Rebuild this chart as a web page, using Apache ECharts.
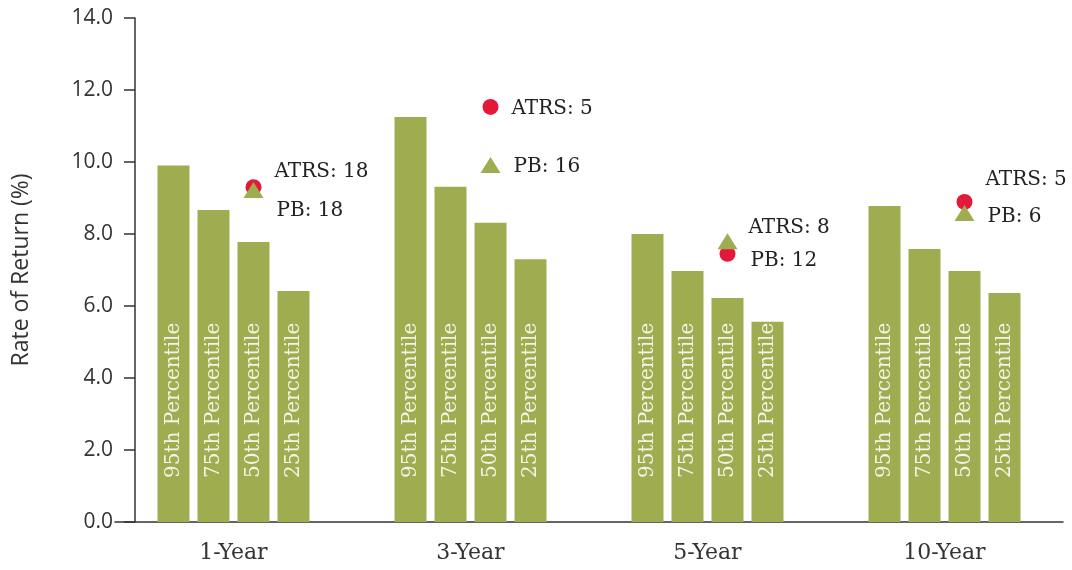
<!DOCTYPE html>
<html>
<head>
<meta charset="utf-8">
<script src="https://cdn.jsdelivr.net/npm/echarts@6/dist/echarts.min.js"></script>
<style>
  html, body { margin: 0; padding: 0; background: #fff; }
  #chart { width: 1072px; height: 570px; }
</style>
</head>
<body>
<div id="chart"></div>
<script>
const periods = ['1-Year', '3-Year', '5-Year', '10-Year']
const percentileNames = ['95th Percentile', '75th Percentile', '50th Percentile', '25th Percentile']
const p95 = [9.9, 11.25, 8.0, 8.78]
const p75 = [8.67, 9.31, 6.97, 7.58]
const p50 = [7.78, 8.31, 6.22, 6.97]
const p25 = [6.42, 7.3, 5.56, 6.36]
const atrsReturn = [9.3, 11.53, 7.45, 8.89]
const atrsRank = [18, 5, 8, 5]
const pbReturn = [9.22, 9.92, 7.8, 8.58]
const pbRank = [18, 16, 12, 6]
const yTicks = [0, 2, 4, 6, 8, 10, 12, 14]

// label nudges so the two callouts don't collide
const atrsNudge = [[0, -15], [0, 2], [0, -26], [0, -22]]
const pbNudge = [[0, 21], [0, 2], [0, 20], [0, 4]]

const GREEN = '#9fac4f'
const RED = '#e3193a'
const SLAB = '"DejaVu Serif", serif'
const SANS = '"Open Sans", sans-serif'

const chart = echarts.init(document.getElementById('chart'))

const barSeries = [p95, p75, p50, p25].map((values, i) => ({
  name: percentileNames[i],
  type: 'bar',
  data: values,
  barWidth: 32,
  barGap: '25%',
  itemStyle: { color: GREEN },
  label: {
    show: true,
    formatter: percentileNames[i],
    position: 'insideBottom',
    distance: 44,
    rotate: 90,
    align: 'left',
    verticalAlign: 'middle',
    color: '#f3f3e6',
    fontFamily: SLAB,
    fontSize: 20,
  },
}))

function markerSeries(name, values, ranks, nudges, symbol, size, color) {
  return {
    name,
    type: 'scatter',
    symbol,
    symbolSize: size,
    symbolOffset: [20, 0],
    itemStyle: { color, opacity: 1 },
    z: name === 'PB' ? 4 : 3,
    data: values.map((v, i) => ({
      value: v,
      label: { offset: nudges[i], formatter: `${name}: ${ranks[i]}` },
    })),
    label: {
      show: true,
      position: 'right',
      distance: 13,
      color: '#222',
      fontFamily: SLAB,
      fontSize: 20,
    },
  }
}

chart.setOption({
  animation: false,
  backgroundColor: '#fff',
  grid: { left: 115, right: 9, top: 18, bottom: 48, containLabel: false },
  xAxis: {
    type: 'category',
    data: periods,
    axisTick: { show: false },
    axisLine: { lineStyle: { color: '#333', width: 1.5 } },
    axisLabel: { margin: 20, fontSize: 22, color: '#333', fontFamily: SLAB },
  },
  yAxis: {
    type: 'value',
    min: yTicks[0],
    max: yTicks[yTicks.length - 1],
    interval: 2,
    offset: -20,
    name: 'Rate of Return (%)',
    nameLocation: 'middle',
    nameGap: 102,
    nameTextStyle: { fontSize: 23, color: '#333', fontFamily: SANS },
    axisLine: { show: true, lineStyle: { color: '#333', width: 1.5 } },
    axisTick: { show: true, length: 11, lineStyle: { color: '#333', width: 1.5 } },
    splitLine: { show: false },
    axisLabel: {
      margin: 22,
      fontSize: 21,
      color: '#333',
      fontFamily: SANS,
      formatter: (v) => v.toFixed(1),
    },
  },
  series: [
    ...barSeries,
    markerSeries('ATRS', atrsReturn, atrsRank, atrsNudge, 'circle', 16, RED),
    markerSeries('PB', pbReturn, pbRank, pbNudge, 'triangle', [20, 16], GREEN),
  ],
})
</script>
</body>
</html>
